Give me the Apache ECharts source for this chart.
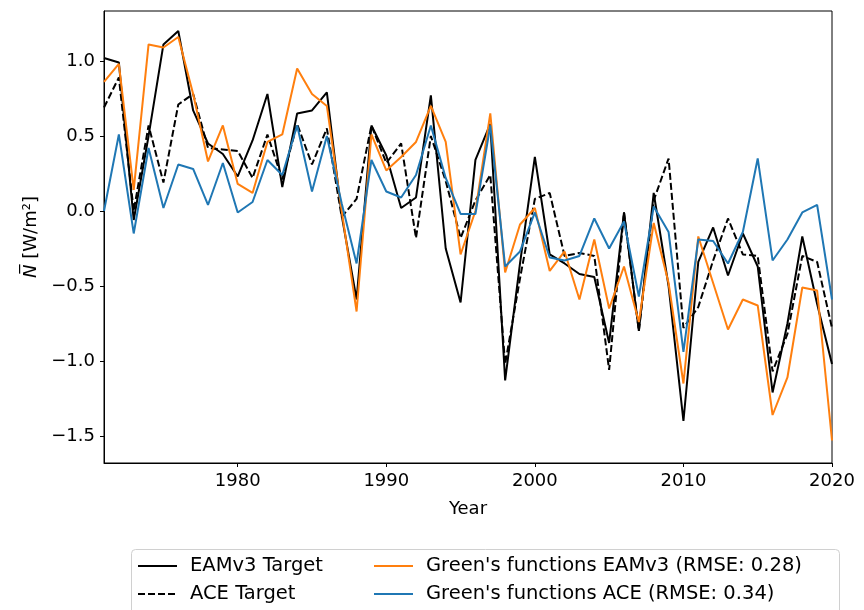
<!DOCTYPE html>
<html>
<head>
<meta charset="utf-8">
<script src="https://cdn.jsdelivr.net/npm/echarts@6/dist/echarts.min.js"></script>
<style>
html,body{margin:0;padding:0;background:#fff;}
#chart{width:864px;height:610px;}
</style>
</head>
<body>
<div id="chart"></div>
<script>
const years = [1971,1972,1973,1974,1975,1976,1977,1978,1979,1980,1981,1982,1983,1984,1985,1986,1987,1988,1989,1990,1991,1992,1993,1994,1995,1996,1997,1998,1999,2000,2001,2002,2003,2004,2005,2006,2007,2008,2009,2010,2011,2012,2013,2014,2015,2016,2017,2018,2019,2020];

const eamTarget = [1.02,0.99,-0.06,0.50,1.11,1.20,0.67,0.45,0.38,0.23,0.47,0.78,0.16,0.65,0.67,0.79,-0.03,-0.59,0.57,0.37,0.02,0.09,0.77,-0.25,-0.61,0.34,0.58,-1.13,-0.35,0.36,-0.29,-0.35,-0.42,-0.44,-0.88,-0.01,-0.80,0.12,-0.50,-1.40,-0.34,-0.11,-0.43,-0.15,-0.37,-1.21,-0.75,-0.17,-0.62,-1.02];

const aceTarget = [0.69,0.89,0.00,0.57,0.19,0.71,0.78,0.42,0.41,0.40,0.22,0.51,0.21,0.58,0.31,0.55,-0.04,0.08,0.57,0.32,0.45,-0.18,0.50,0.20,-0.18,0.07,0.24,-1.02,-0.45,0.08,0.12,-0.30,-0.28,-0.30,-1.06,-0.01,-0.80,0.07,0.35,-0.78,-0.64,-0.33,-0.05,-0.29,-0.30,-1.07,-0.82,-0.30,-0.34,-0.78];

const gfEam = [0.86,0.98,0.14,1.11,1.09,1.16,0.78,0.33,0.57,0.18,0.12,0.46,0.51,0.95,0.78,0.70,0.00,-0.67,0.51,0.27,0.36,0.46,0.70,0.46,-0.29,0.00,0.65,-0.41,-0.09,0.02,-0.40,-0.27,-0.59,-0.19,-0.65,-0.37,-0.74,-0.08,-0.48,-1.15,-0.17,-0.48,-0.79,-0.59,-0.63,-1.36,-1.11,-0.51,-0.53,-1.53];

const gfAce = [0.00,0.51,-0.15,0.42,0.02,0.31,0.28,0.04,0.32,-0.01,0.06,0.34,0.24,0.57,0.13,0.50,0.05,-0.35,0.34,0.13,0.09,0.24,0.57,0.22,-0.02,-0.02,0.57,-0.37,-0.27,-0.01,-0.31,-0.33,-0.30,-0.05,-0.25,-0.07,-0.57,0.03,-0.14,-0.94,-0.19,-0.20,-0.35,-0.14,0.35,-0.33,-0.19,-0.01,0.04,-0.59];

const xTicks = [1980,1990,2000,2010,2020];
const yTicks = [-1.5,-1.0,-0.5,0.0,0.5,1.0];

const seriesNames = ["EAMv3 Target","ACE Target","Green's functions EAMv3 (RMSE: 0.28)","Green's functions ACE (RMSE: 0.34)"];

const pair = arr => years.map((y,i)=>[y,arr[i]]);
const FONT = 'DejaVu Sans';
const FS = 18;
const LFS = 19.5;

const chart = echarts.init(document.getElementById('chart'), null, {renderer:'canvas'});
const mkSeries = (name, arr, color, dashed) => ({
  name, type:'line', data: pair(arr), symbol:'none', showSymbol:false,
  lineStyle:{color, width:2, type: dashed ? [7,3] : 'solid'},
  itemStyle:{color}, animation:false
});

const mkLegend = (names, left) => ({
  data:names, left, top:556, orient:'vertical', padding:0,
  itemWidth:39, itemHeight:14, itemGap:8, height:80,
  itemStyle:{opacity:0},
  textStyle:{fontFamily:FONT,fontSize:LFS,color:'#000',padding:[0,0,0,8]}
});

chart.setOption({
  animation:false,
  backgroundColor:'#fff',
  grid:{left:104,right:32,top:11,bottom:147,show:true,borderColor:'#000',borderWidth:1,backgroundColor:'transparent'},
  xAxis:{
    type:'value', min:1971, max:2020,
    name:'Year', nameLocation:'middle', nameGap:37,
    nameTextStyle:{fontFamily:FONT,fontSize:FS,color:'#000'},
    axisLine:{show:true,onZero:false,lineStyle:{color:'#000',width:1}},
    axisTick:{show:true,length:4,lineStyle:{color:'#000'},customValues:xTicks},
    axisLabel:{fontFamily:FONT,fontSize:FS,color:'#000',margin:9,customValues:xTicks,
      formatter:v=>String(v)},
    splitLine:{show:false}
  },
  yAxis:{
    type:'value', min:-1.68, max:1.333,
    name:'{i|N\u0305} [W/m\u00B2]', nameLocation:'middle', nameGap:64, nameRotate:90,
    nameTextStyle:{fontFamily:FONT,fontSize:FS,color:'#000',
      rich:{i:{fontFamily:FONT,fontSize:FS,fontStyle:'italic',color:'#000'}}},
    axisLine:{show:true,onZero:false,lineStyle:{color:'#000',width:1}},
    axisTick:{show:true,length:4,lineStyle:{color:'#000'},customValues:yTicks},
    axisLabel:{fontFamily:FONT,fontSize:FS,color:'#000',margin:9,customValues:yTicks,
      formatter:v=>v.toFixed(1).replace('-','\u2212')},
    splitLine:{show:false}
  },
  legend:[
    mkLegend([seriesNames[0],seriesNames[1]], 137),
    mkLegend([seriesNames[2],seriesNames[3]], 373)
  ],
  graphic:[{type:'rect',left:129,top:547,shape:{width:708,height:70,r:4},style:{fill:'none',stroke:'#d0d0d0',lineWidth:1},silent:true}],
  series:[
    mkSeries(seriesNames[0], eamTarget, '#000000', false),
    mkSeries(seriesNames[1], aceTarget, '#000000', true),
    mkSeries(seriesNames[2], gfEam, '#ff7f0e', false),
    mkSeries(seriesNames[3], gfAce, '#1f77b4', false)
  ]
});
</script>
</body>
</html>
